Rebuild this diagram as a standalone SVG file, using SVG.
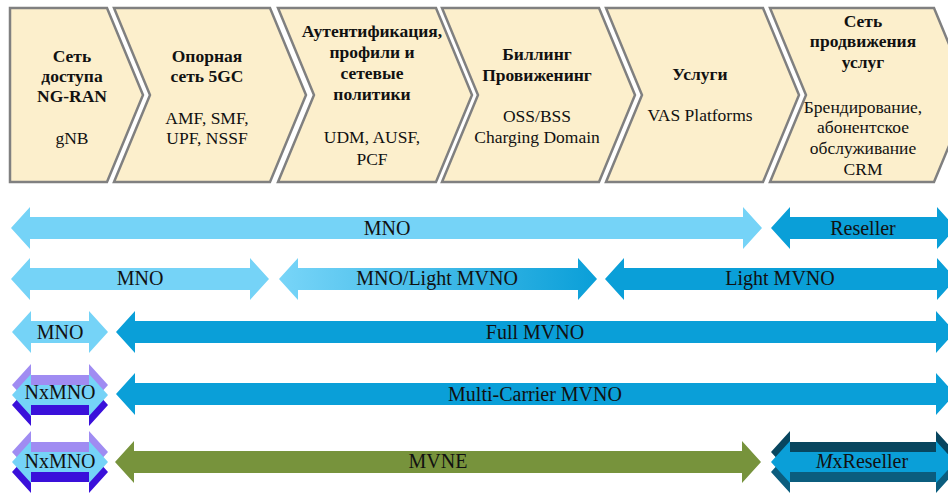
<svg xmlns="http://www.w3.org/2000/svg" width="948" height="495" viewBox="0 0 948 495">
  <defs>
    <linearGradient id="gradMnoLight" x1="0" y1="0" x2="1" y2="0">
      <stop offset="0" stop-color="#78D5F8"/>
      <stop offset="1" stop-color="#0A9FD8"/>
    </linearGradient>
    <style>
      .chev { fill: #FCEFCC; stroke: #808080; stroke-width: 2.5; stroke-linejoin: miter; }
      .t { font-family: "Liberation Serif", "Times New Roman", serif; font-size: 17.5px; fill: #111; text-anchor: middle; }
      .b { font-weight: bold; }
      .lbl { font-family: "Liberation Serif", "Times New Roman", serif; font-size: 20px; fill: #111; text-anchor: middle; }
      .light { fill: #75D3F7; }
      .dark { fill: #0A9FD8; }
      .green { fill: #77933C; }
      .pTop { fill: #A08CF2; }
      .pBot { fill: #3A10DA; }
      .rTop { fill: #08465F; }
      .rBot { fill: #0B5D7E; }
    </style>
  </defs>

  <!-- value chain header -->
  <g id="chev-ran">
    <path class="chev" d="M10,8 L107,8 L143,95 L107,182 L10,182 Z"/>
    <text class="t b" x="72" y="62">Сеть</text>
    <text class="t b" x="72" y="82">доступа</text>
    <text class="t b" x="72" y="102">NG-RAN</text>
    <text class="t" x="72" y="144">gNB</text>
  </g>
  <g id="chev-core">
    <path class="chev" d="M114,8 L270,8 L306,95 L270,182 L114,182 L150,95 Z"/>
    <text class="t b" x="207" y="62">Опорная</text>
    <text class="t b" x="207" y="82">сеть 5GC</text>
    <text class="t" x="207" y="124">AMF, SMF,</text>
    <text class="t" x="207" y="144">UPF, NSSF</text>
  </g>
  <g id="chev-auth">
    <path class="chev" d="M278,8 L436,8 L472,95 L436,182 L278,182 L314,95 Z"/>
    <text class="t b" x="372" y="37">Аутентификация,</text>
    <text class="t b" x="372" y="58">профили и</text>
    <text class="t b" x="372" y="79">сетевые</text>
    <text class="t b" x="372" y="100">политики</text>
    <text class="t" x="372" y="143">UDM, AUSF,</text>
    <text class="t" x="372" y="165">PCF</text>
  </g>
  <g id="chev-billing">
    <path class="chev" d="M442,8 L599,8 L635,95 L599,182 L442,182 L478,95 Z"/>
    <text class="t b" x="537" y="60">Биллинг</text>
    <text class="t b" x="537" y="81">Провиженинг</text>
    <text class="t" x="537" y="122">OSS/BSS</text>
    <text class="t" x="537" y="143">Charging Domain</text>
  </g>
  <g id="chev-services">
    <path class="chev" d="M606,8 L763,8 L799,95 L763,182 L606,182 L642,95 Z"/>
    <text class="t b" x="700" y="80">Услуги</text>
    <text class="t" x="700" y="121">VAS Platforms</text>
  </g>
  <g id="chev-promo">
    <path class="chev" d="M770,8 L934,8 L970,95 L934,182 L770,182 L806,95 Z"/>
    <text class="t b" x="863" y="27">Сеть</text>
    <text class="t b" x="863" y="47">продвижения</text>
    <text class="t b" x="863" y="68">услуг</text>
    <text class="t" x="863" y="113">Брендирование,</text>
    <text class="t" x="863" y="133">абонентское</text>
    <text class="t" x="863" y="154">обслуживание</text>
    <text class="t" x="863" y="175">CRM</text>
  </g>

  <!-- operator model spans (double-headed arrows) -->
  <g id="connectors">
    <!-- row 1 -->
    <path class="light" d="M11,228 L30,207 L30,217 L743,217 L743,207 L762,228 L743,249 L743,239 L30,239 L30,249 Z"/>
    <path class="dark" d="M771,228 L790,207 L790,217 L937,217 L937,207 L956,228 L937,249 L937,239 L790,239 L790,249 Z"/>
    <!-- row 2 -->
    <path class="light" d="M11,279 L30,258 L30,268 L250,268 L250,258 L269,279 L250,300 L250,290 L30,290 L30,300 Z"/>
    <path fill="url(#gradMnoLight)" d="M279,279 L298,258 L298,268 L578,268 L578,258 L597,279 L578,300 L578,290 L298,290 L298,300 Z"/>
    <path class="dark" d="M605,279 L624,258 L624,268 L937,268 L937,258 L956,279 L937,300 L937,290 L624,290 L624,300 Z"/>
    <!-- row 3 -->
    <path class="light" d="M12,332 L31,311 L31,321 L89,321 L89,311 L108,332 L89,353 L89,343 L31,343 L31,353 Z"/>
    <path class="dark" d="M116,332 L135,311 L135,321 L936,321 L936,311 L955,332 L936,353 L936,343 L135,343 L135,353 Z"/>
    <!-- row 4 -->
    <path class="pTop" d="M12,385 L31,364 L31,375 L89,375 L89,364 L108,385 L89,406 L89,395 L31,395 L31,406 Z"/>
    <path class="pBot" d="M12,405 L31,384 L31,395 L89,395 L89,384 L108,405 L89,426 L89,415 L31,415 L31,426 Z"/>
    <path class="light" d="M12,395 L31,374 L31,385 L89,385 L89,374 L108,395 L89,416 L89,405 L31,405 L31,416 Z"/>
    <path class="dark" d="M116,394 L135,373 L135,383 L936,383 L936,373 L955,394 L936,415 L936,405 L135,405 L135,415 Z"/>
    <!-- row 5 -->
    <path class="pTop" d="M12,452 L31,431 L31,442 L89,442 L89,431 L108,452 L89,473 L89,462 L31,462 L31,473 Z"/>
    <path class="pBot" d="M12,472 L31,451 L31,462 L89,462 L89,451 L108,472 L89,493 L89,482 L31,482 L31,493 Z"/>
    <path class="light" d="M12,462 L31,441 L31,452 L89,452 L89,441 L108,462 L89,483 L89,472 L31,472 L31,483 Z"/>
    <path class="green" d="M115,462 L134,441 L134,451 L742,451 L742,441 L761,462 L742,483 L742,473 L134,473 L134,483 Z"/>
    <path class="rTop" d="M771,452 L790,431 L790,442 L936,442 L936,431 L955,452 L936,473 L936,462 L790,462 L790,473 Z"/>
    <path class="rBot" d="M771,472 L790,451 L790,462 L936,462 L936,451 L955,472 L936,493 L936,482 L790,482 L790,493 Z"/>
    <path class="dark" d="M771,462 L790,441 L790,452 L936,452 L936,441 L955,462 L936,483 L936,472 L790,472 L790,483 Z"/>
  </g>

  <!-- span labels -->
  <g id="labels">
    <text class="lbl" x="387" y="235">MNO</text>
    <text class="lbl" x="863" y="235">Reseller</text>
    <text class="lbl" x="140" y="285">MNO</text>
    <text class="lbl" x="437" y="285">MNO/Light MVNO</text>
    <text class="lbl" x="780" y="285">Light MVNO</text>
    <text class="lbl" x="60" y="339">MNO</text>
    <text class="lbl" x="535" y="339">Full MVNO</text>
    <text class="lbl" x="60" y="399">NxMNO</text>
    <text class="lbl" x="535" y="401">Multi-Carrier MVNO</text>
    <text class="lbl" x="60" y="468">NxMNO</text>
    <text class="lbl" x="438" y="468">MVNE</text>
    <text class="lbl" x="862" y="468"><tspan font-style="italic">M</tspan>xReseller</text>
  </g>
</svg>
